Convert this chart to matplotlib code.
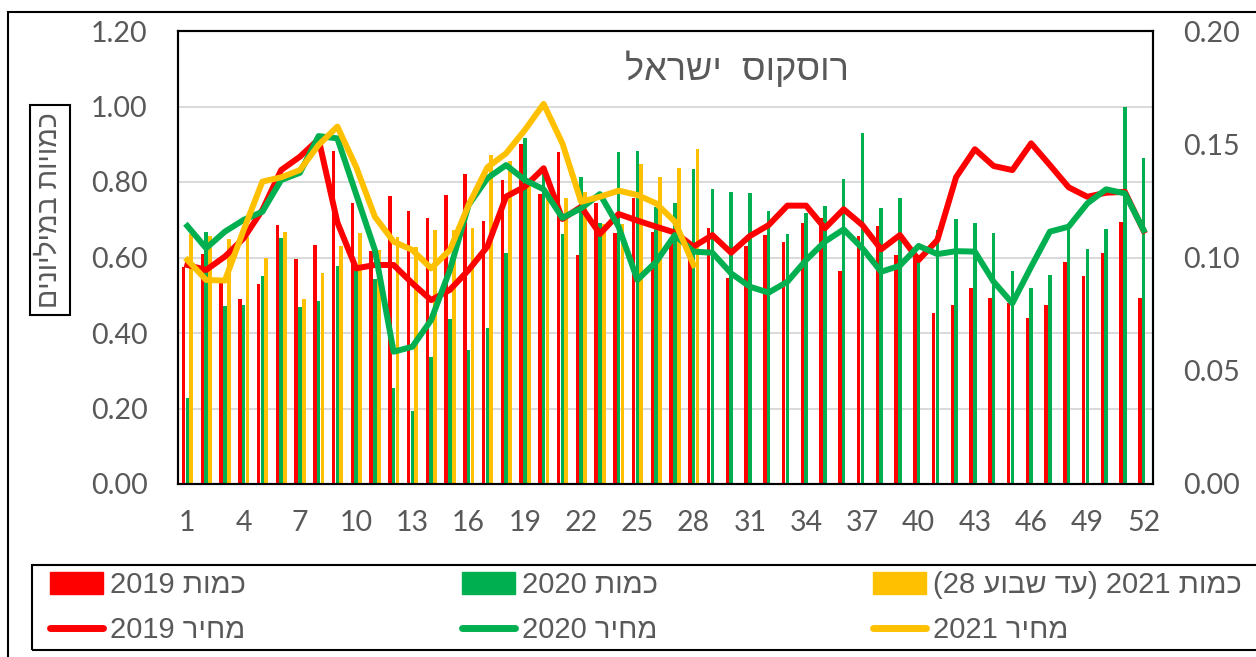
import re
import matplotlib
matplotlib.use("Agg")
import matplotlib.pyplot as plt
import numpy as np
from matplotlib.patches import Patch, Rectangle
from matplotlib.lines import Line2D

weeks = list(range(1, 53))
weeks_2021 = list(range(1, 29))

# quantities (millions), left axis
qty_2019 = [0.576, 0.608, 0.547, 0.489, 0.530, 0.686, 0.596, 0.633, 0.883, 0.744,
            0.617, 0.763, 0.723, 0.704, 0.765, 0.821, 0.697, 0.805, 0.900, 0.768,
            0.880, 0.607, 0.744, 0.664, 0.757, 0.668, 0.650, 0.642, 0.679, 0.545,
            0.631, 0.660, 0.642, 0.692, 0.705, 0.565, 0.657, 0.683, 0.607, 0.598,
            0.454, 0.474, 0.518, 0.494, 0.479, 0.439, 0.474, 0.588, 0.552, 0.611,
            0.693, 0.494]
qty_2020 = [0.227, 0.667, 0.472, 0.474, 0.551, 0.652, 0.470, 0.484, 0.577, 0.567,
            0.542, 0.255, 0.194, 0.337, 0.436, 0.355, 0.412, 0.611, 0.917, 0.842,
            0.662, 0.814, 0.691, 0.879, 0.883, 0.735, 0.745, 0.834, 0.781, 0.774,
            0.770, 0.723, 0.662, 0.717, 0.736, 0.807, 0.931, 0.730, 0.758, 0.607,
            0.673, 0.701, 0.691, 0.664, 0.565, 0.518, 0.554, 0.675, 0.622, 0.675,
            1.000, 0.864]
qty_2021 = [0.662, 0.657, 0.649, 0.655, 0.600, 0.667, 0.489, 0.560, 0.631, 0.666,
            0.620, 0.653, 0.629, 0.673, 0.673, 0.679, 0.872, 0.856, 0.800, 0.770,
            0.757, 0.774, 0.690, 0.690, 0.848, 0.814, 0.837, 0.887]

# prices, right axis
price_2019 = [0.0967, 0.0945, 0.1004, 0.1085, 0.1210, 0.1386, 0.1445, 0.1522, 0.1155, 0.0952,
              0.0967, 0.0967, 0.0886, 0.0812, 0.0857, 0.0945, 0.1048, 0.1269, 0.1313, 0.1394,
              0.1170, 0.1224, 0.1104, 0.1192, 0.1163, 0.1136, 0.1110, 0.1048, 0.1099, 0.1021,
              0.1095, 0.1143, 0.1229, 0.1229, 0.1129, 0.1213, 0.1143, 0.1036, 0.1099, 0.0989,
              0.1077, 0.1355, 0.1478, 0.1404, 0.1386, 0.1504, 0.1408, 0.1310, 0.1268, 0.1286,
              0.1290, 0.1118]
price_2020 = [0.1139, 0.1041, 0.1114, 0.1166, 0.1202, 0.1342, 0.1374, 0.1536, 0.1526, 0.1280,
              0.1033, 0.0584, 0.0606, 0.0724, 0.0945, 0.1232, 0.1350, 0.1408, 0.1342, 0.1301,
              0.1175, 0.1217, 0.1280, 0.1136, 0.0901, 0.0981, 0.1099, 0.1026, 0.1021, 0.0930,
              0.0871, 0.0845, 0.0893, 0.0989, 0.1070, 0.1124, 0.1041, 0.0937, 0.0964, 0.1051,
              0.1015, 0.1028, 0.1026, 0.0893, 0.0798, 0.0959, 0.1114, 0.1136, 0.1239, 0.1301,
              0.1283, 0.1121]
price_2021 = [0.0989, 0.0901, 0.0898, 0.1121, 0.1335, 0.1354, 0.1386, 0.1497, 0.1578, 0.1400,
              0.1180, 0.1070, 0.1033, 0.0952, 0.1033, 0.1232, 0.1398, 0.1460, 0.1563, 0.1678,
              0.1504, 0.1246, 0.1268, 0.1295, 0.1276, 0.1239, 0.1158, 0.0967]

title = "רוסקוס  ישראל"
ylabel = "כמויות במיליונים"
labels_qty = ["כמות 2019", "כמות 2020", "כמות 2021 (עד שבוע 28)"]
labels_price = ["מחיר 2019", "מחיר 2020", "מחיר 2021"]

RED = "#FF0000"
GREEN = "#00B050"
YELLOW = "#FFC000"
GRAY = "#595959"
HEB = "Liberation Sans"
NUM = "Lato"


def visual(s):
    # matplotlib has no bidi support, so lay the Hebrew out in display order
    tokens = re.findall(r"[\u0590-\u05FF]+|\d+|.", s)
    mirror = {"(": ")", ")": "("}
    out = []
    for t in reversed(tokens):
        if re.match(r"[\u0590-\u05FF]", t):
            out.append(t[::-1])
        else:
            out.append(mirror.get(t, t))
    return "".join(out)


W, H = 1256, 657
fig = plt.figure(figsize=(W / 100, H / 100), dpi=100)
ax = fig.add_axes([178 / W, 1 - 484 / H, (1153 - 178) / W, (484 - 31) / H])

x = np.array(weeks)
x21 = np.array(weeks_2021)
bw = 0.19
ax.bar(x - 0.205, qty_2019, width=bw, color=RED, zorder=2)
ax.bar(x, qty_2020, width=bw, color=GREEN, zorder=2)
ax.bar(x21 + 0.205, qty_2021, width=bw, color=YELLOW, zorder=2)

ax.set_xlim(0.5, 52.5)
ax.set_ylim(0, 1.2)
ax.set_yticks(np.arange(0, 1.21, 0.2))
ax.set_yticklabels(["%.2f" % v for v in np.arange(0, 1.21, 0.2)])
ax.set_xticks(range(1, 53, 3))
ax.yaxis.grid(True, color="#d9d9d9", lw=1.4, zorder=0)
ax.set_axisbelow(True)
ax.tick_params(length=0, labelsize=20.5, labelcolor=GRAY)
ax.tick_params(axis="y", pad=22)
ax.tick_params(axis="x", pad=19)

ax2 = ax.twinx()
ax2.plot(x, price_2019, color=RED, lw=4.3, solid_joinstyle="round")
ax2.plot(x, price_2020, color=GREEN, lw=4.3, solid_joinstyle="round")
ax2.plot(x21, price_2021, color=YELLOW, lw=4.3, solid_joinstyle="round")
ax2.set_ylim(0, 0.2)
ax2.set_yticks(np.arange(0, 0.201, 0.05))
ax2.set_yticklabels(["%.2f" % v for v in np.arange(0, 0.201, 0.05)])
ax2.tick_params(length=0, labelsize=20.5, labelcolor=GRAY, pad=22)

for a in (ax, ax2):
    for sp in a.spines.values():
        sp.set_color("black")
        sp.set_linewidth(1.5)
    for lab in a.get_xticklabels() + a.get_yticklabels():
        lab.set_fontfamily(NUM)

fig.text(737 / W, 1 - 70 / H, visual(title), ha="center", va="center",
         fontsize=26, color=GRAY, family=HEB)

fig.text(50 / W, 1 - 210 / H, visual(ylabel), rotation=90, ha="center", va="center",
         fontsize=20.5, color=GRAY, family=HEB,
         bbox=dict(boxstyle="square,pad=0.25", fc="white", ec="black", lw=1.5))

# outer chart frame and legend frame (both run off the right/bottom edge)
fig.patches.append(Rectangle((8 / W, -0.2), 1.2, 1.2 - 12 / H, transform=fig.transFigure,
                             fill=False, ec="black", lw=1.5))
fig.patches.append(Rectangle((32 / W, 1 - 650 / H), 1.2, 85 / H, transform=fig.transFigure,
                             fill=False, ec="black", lw=1.5))

col_x = [50, 462, 873]
colors = [RED, GREEN, YELLOW]
for i in range(3):
    handles = [Patch(color=colors[i]), Line2D([0], [0], color=colors[i], lw=5,
                                              solid_capstyle="round")]
    leg = fig.legend(handles, [visual(labels_qty[i]), visual(labels_price[i])],
                     loc="upper left", bbox_to_anchor=(col_x[i] / W, 1 - 571 / H),
                     frameon=False, handlelength=1.8, handleheight=0.75,
                     handletextpad=0.25, labelspacing=0.6, borderpad=0, borderaxespad=0,
                     prop={"family": HEB, "size": 21})
    for t in leg.get_texts():
        t.set_color(GRAY)

fig.savefig("out.png", dpi=100)
